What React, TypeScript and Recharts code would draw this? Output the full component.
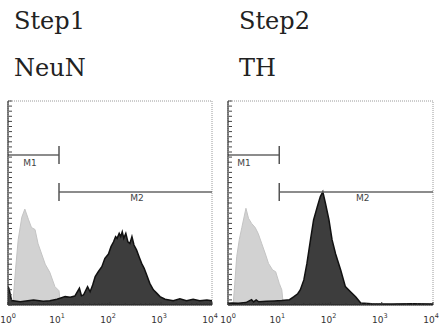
import React from 'react';
import { ComposedChart, Area, XAxis, YAxis, ReferenceLine, ReferenceArea, ReferenceDot } from 'recharts';

// x = fluorescence position in decades (10^x), y = relative cell count (0-100)
const decadeTicks = [0, 1, 2, 3, 4];
const decadeExponents = ['0', '1', '2', '3', '4'];
const minorSteps = [2, 3, 4, 5, 6, 7, 8, 9];

const panelTitles = ['Step1', 'Step2'];
const markerTitles = ['NeuN', 'TH'];
const gateNames = ['M1', 'M2'];
const gateStart = [0, 1];
const gateEnd = [1, 4];
const gateLevel = [73.5, 55.4];

// NeuN panel
const neunIsoX = [0.08, 0.10, 0.15, 0.20, 0.27, 0.33, 0.40, 0.46, 0.53, 0.59, 0.66, 0.73, 0.82, 0.92, 1.00, 1.03];
const neunIsoY = [0, 2, 18, 32, 43, 47, 42, 38, 37, 30, 25, 20, 16, 9, 7, 0];
const neunStainX = [0.00, 0.02, 0.07, 0.24, 0.50, 0.69, 0.82, 0.96, 1.02, 1.12, 1.22, 1.31, 1.40, 1.44, 1.48, 1.56, 1.61, 1.66, 1.71, 1.77, 1.84, 1.90, 1.97, 2.02, 2.07, 2.11, 2.14, 2.18, 2.21, 2.24, 2.27, 2.31, 2.35, 2.39, 2.43, 2.47, 2.52, 2.57, 2.62, 2.67, 2.72, 2.78, 2.85, 2.92, 2.98, 3.08, 3.24, 3.37, 3.50, 3.63, 3.76, 3.90, 4.00];
const neunStainY = [9, 8, 2.2, 1.6, 2.5, 1.8, 2.1, 2.8, 3.3, 4.1, 3.8, 4.4, 8.2, 4.5, 4.9, 9.0, 6.5, 9.8, 13.9, 16.3, 18.8, 22.9, 25.0, 28.6, 31.0, 33.5, 32.7, 35.1, 33.5, 35.9, 32.7, 35.1, 31.0, 30.2, 33.5, 29.4, 27.0, 23.7, 20.4, 18.0, 14.7, 10.6, 7.4, 5.7, 4.1, 2.8, 2.1, 3.0, 2.1, 2.8, 2.1, 2.5, 2.1];
const neunGateLabelX = [0.43, 2.53];

// TH panel
const thIsoX = [0.10, 0.13, 0.17, 0.22, 0.27, 0.35, 0.40, 0.46, 0.53, 0.59, 0.66, 0.73, 0.79, 0.87, 0.93, 1.00, 1.05, 1.08];
const thIsoY = [0, 10, 23.7, 32, 38, 47.4, 42.5, 40, 38, 35, 30, 25, 20.4, 17.2, 16.3, 10.6, 7.4, 0];
const thStainX = [0.00, 0.08, 0.20, 0.35, 0.46, 0.50, 0.55, 0.60, 0.75, 0.90, 1.05, 1.20, 1.28, 1.36, 1.41, 1.48, 1.54, 1.61, 1.67, 1.74, 1.80, 1.85, 1.90, 1.97, 2.03, 2.10, 2.20, 2.29, 2.39, 2.49, 2.59, 2.80, 3.20, 3.60, 4.00];
const thStainY = [0.8, 1.0, 0.9, 1.2, 2.6, 1.5, 2.5, 1.6, 1.8, 2.0, 2.2, 2.6, 4.0, 5.5, 7.4, 12.3, 20.4, 32.0, 41.7, 48.0, 53.0, 55.5, 50.0, 41.7, 32.0, 25.0, 17.0, 9.0, 6.5, 4.0, 1.0, 0.6, 0.5, 0.6, 0.5];
const thGateLabelX = [0.31, 2.63];

const gateLabelY = [69.5, 52.5];

const serif = "'DejaVu Serif', 'Liberation Serif', serif";

const zip = (xs: number[], ys: number[]) => xs.map((x, i) => ({ x, count: ys[i] }));

const xTicks: number[] = [];
decadeTicks.forEach((d) => {
  xTicks.push(d);
  if (d < 4) minorSteps.forEach((m) => xTicks.push(d + Math.log10(m)));
});
const yTicks: number[] = [];
for (let v = 0; v <= 100; v += 2.5) yTicks.push(v);

const DecadeTick = (props: any) => {
  const { x, y, payload } = props;
  const v = payload.value;
  const idx = decadeTicks.findIndex((d) => Math.abs(d - v) < 1e-6);
  const major = idx >= 0;
  return (
    <g>
      <line x1={x} x2={x} y1={y} y2={y - (major ? 3 : 2)} stroke="#333" strokeWidth={1} />
      {major && (
        <text x={x + (idx === 0 ? 0 : -2)} y={y + 18} textAnchor="middle" fontSize={9} fontFamily="DejaVu Sans" fill="#333">
          10
          <tspan dy={-5} fontSize={6.5}>{decadeExponents[idx]}</tspan>
        </text>
      )}
    </g>
  );
};

const LeftTick = (props: any) => {
  const { y, index } = props;
  const axisX = props.x + 4;
  const len = index % 4 === 0 ? 4 : 3;
  return <line x1={axisX - len} x2={axisX} y1={y} y2={y} stroke="#444" strokeWidth={1} />;
};

type PanelProps = {
  left: number;
  width: number;
  marginLeft: number;
  marginRight: number;
  iso: { x: number; count: number }[];
  stain: { x: number; count: number }[];
  labelX: number[];
};

const Panel = ({ left, width, marginLeft, marginRight, iso, stain, labelX }: PanelProps) => (
  <div style={{ position: 'absolute', left, top: 0 }}>
    <ComposedChart width={width} height={327} margin={{ top: 101, right: marginRight, bottom: 0, left: marginLeft }}>
      <XAxis
        type="number"
        dataKey="x"
        domain={[0, 4]}
        ticks={xTicks}
        interval={0}
        allowDataOverflow
        height={22}
        tickSize={0}
        tickMargin={0}
        tickLine={false}
        axisLine={{ stroke: '#222', strokeWidth: 1.2 }}
        tick={(p: any) => <DecadeTick {...p} />}
      />
      <YAxis
        type="number"
        domain={[0, 100]}
        ticks={yTicks}
        interval={0}
        width={6}
        tickSize={0}
        tickMargin={0}
        tickLine={false}
        axisLine={{ stroke: '#333', strokeWidth: 1.2 }}
        tick={(p: any) => <LeftTick {...p} />}
      />
      <ReferenceArea x1={0} x2={4} y1={0} y2={100} fill="none" stroke="#9a9a9a" strokeDasharray="1 1" />
      <Area
        data={iso}
        dataKey="count"
        type="linear"
        fill="#d2d2d2"
        fillOpacity={1}
        stroke="#c4c4c4"
        strokeWidth={1}
        dot={false}
        activeDot={false}
        isAnimationActive={false}
      />
      <Area
        data={stain}
        dataKey="count"
        type="linear"
        fill="#3d3d3d"
        fillOpacity={1}
        stroke="#111"
        strokeWidth={1.5}
        dot={false}
        activeDot={false}
        isAnimationActive={false}
      />
      {gateNames.map((g, i) => (
        <ReferenceLine
          key={g + 'h'}
          segment={[{ x: gateStart[i], y: gateLevel[i] }, { x: gateEnd[i], y: gateLevel[i] }]}
          stroke="#666"
          strokeWidth={1.5}
        />
      ))}
      {gateNames.map((g, i) => (
        <ReferenceLine
          key={g + 'c'}
          segment={[{ x: 1, y: gateLevel[i] - 4.4 }, { x: 1, y: gateLevel[i] + 4.4 }]}
          stroke="#555"
          strokeWidth={1.5}
        />
      ))}
      {gateNames.map((g, i) => (
        <ReferenceDot
          key={g + 'l'}
          x={labelX[i]}
          y={gateLabelY[i]}
          r={1}
          fill="none"
          stroke="none"
          label={{ value: g, position: 'center', fontSize: 9, fontFamily: 'DejaVu Sans', fill: '#444' }}
        />
      ))}
    </ComposedChart>
  </div>
);

export default function App() {
  return (
    <div style={{ position: 'absolute', left: 0, top: 0, width: 442, height: 327, background: '#fff', overflow: 'hidden' }}>
      <svg width={442} height={327} style={{ position: 'absolute', left: 0, top: 0 }}>
        {panelTitles.map((t, i) => (
          <text key={t} x={i === 0 ? 14 : 239} y={29} fontSize={24} fontFamily={serif} fill="#222">{t}</text>
        ))}
        {markerTitles.map((t, i) => (
          <text key={t} x={i === 0 ? 14 : 239} y={76} fontSize={24} fontFamily={serif} fill="#222">{t}</text>
        ))}
      </svg>
      <Panel left={0} width={221} marginLeft={2} marginRight={9} iso={zip(neunIsoX, neunIsoY)} stain={zip(neunStainX, neunStainY)} labelX={neunGateLabelX} />
      <Panel left={214} width={228} marginLeft={8} marginRight={9} iso={zip(thIsoX, thIsoY)} stain={zip(thStainX, thStainY)} labelX={thGateLabelX} />
    </div>
  );
}
